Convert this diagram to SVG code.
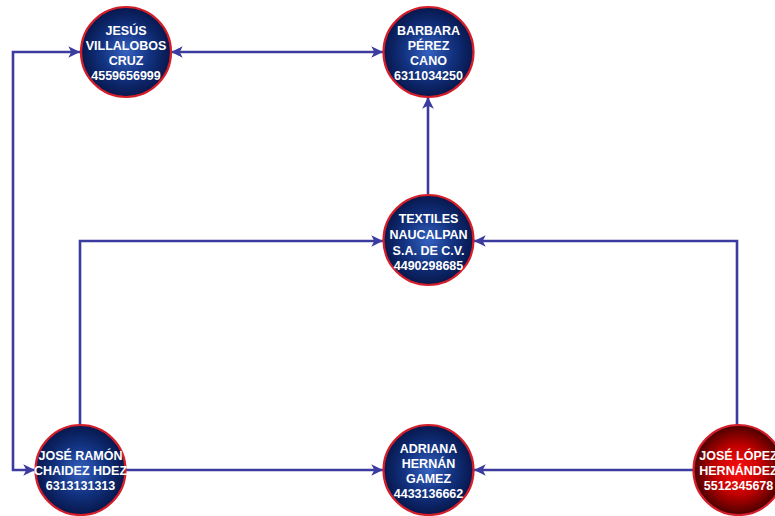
<svg xmlns="http://www.w3.org/2000/svg" width="775" height="516" viewBox="0 0 775 516">
<defs>
<radialGradient id="gb" cx="50%" cy="50%" r="50%">
<stop offset="0" stop-color="#3562c0"/>
<stop offset="0.55" stop-color="#123280"/>
<stop offset="1" stop-color="#07174c"/>
</radialGradient>
<radialGradient id="gr" cx="50%" cy="50%" r="50%">
<stop offset="0" stop-color="#ff1010"/>
<stop offset="0.55" stop-color="#c00000"/>
<stop offset="1" stop-color="#4a0000"/>
</radialGradient>
<marker id="ah" viewBox="0 0 10 10" refX="10" refY="5" markerWidth="4.5" markerHeight="4.5" orient="auto-start-reverse" markerUnits="strokeWidth">
<path d="M0,0 L10,5 L0,10 L2.5,5 z" fill="#3c3ca0"/>
</marker>
<style>
.c{stroke:#d41e2a;stroke-width:2.2}
.t{font-family:"Liberation Sans",Arial,sans-serif;font-weight:bold;font-size:12.5px;fill:#fff;text-anchor:middle}
.e{fill:none;stroke:#3c3ca0;stroke-width:2.6}
</style>
</defs>
<rect width="775" height="516" fill="#fff"/>
<g id="connectors">
<path class="e" d="M171,52 H383" marker-start="url(#ah)" marker-end="url(#ah)"/>
<path class="e" d="M428,194 V97" marker-end="url(#ah)"/>
<path class="e" d="M80,425 V241 H383" marker-end="url(#ah)"/>
<path class="e" d="M737,425 V241 H474" marker-end="url(#ah)"/>
<path class="e" d="M126,470 H383" marker-end="url(#ah)"/>
<path class="e" d="M693,470 H474" marker-end="url(#ah)"/>
<path class="e" d="M80,52 H13 V470 H35" marker-start="url(#ah)" marker-end="url(#ah)"/>
</g>
<g id="jesus">
<circle class="c" cx="126" cy="52" r="45" fill="url(#gb)"/>
<text class="t" x="126" y="35">JESÚS</text>
<text class="t" x="126" y="50">VILLALOBOS</text>
<text class="t" x="126" y="65">CRUZ</text>
<text class="t" x="126" y="80">4559656999</text>
</g>
<g id="barbara">
<circle class="c" cx="428.5" cy="52" r="45" fill="url(#gb)"/>
<text class="t" x="428.5" y="35">BARBARA</text>
<text class="t" x="428.5" y="50">PÉREZ</text>
<text class="t" x="428.5" y="65">CANO</text>
<text class="t" x="428.5" y="80">6311034250</text>
</g>
<g id="textiles">
<circle class="c" cx="428.5" cy="240" r="45" fill="url(#gb)"/>
<text class="t" x="428.5" y="223">TEXTILES</text>
<text class="t" x="428.5" y="239">NAUCALPAN</text>
<text class="t" x="428.5" y="255">S.A. DE C.V.</text>
<text class="t" x="428.5" y="270">4490298685</text>
</g>
<g id="jose-ramon">
<circle class="c" cx="80.5" cy="470" r="45" fill="url(#gb)"/>
<text class="t" x="80.5" y="460">JOSÉ RAMÓN</text>
<text class="t" x="80.5" y="475">CHAIDEZ HDEZ</text>
<text class="t" x="80.5" y="490">6313131313</text>
</g>
<g id="adriana">
<circle class="c" cx="428.5" cy="470" r="45" fill="url(#gb)"/>
<text class="t" x="428.5" y="453">ADRIANA</text>
<text class="t" x="428.5" y="468">HERNÁN</text>
<text class="t" x="428.5" y="483">GAMEZ</text>
<text class="t" x="428.5" y="498">4433136662</text>
</g>
<g id="jose-lopez">
<circle class="c" cx="738.5" cy="470" r="45" fill="url(#gr)"/>
<text class="t" x="738.5" y="460">JOSÉ LÓPEZ</text>
<text class="t" x="738.5" y="475">HERNÁNDEZ</text>
<text class="t" x="738.5" y="490">5512345678</text>
</g>
</svg>
